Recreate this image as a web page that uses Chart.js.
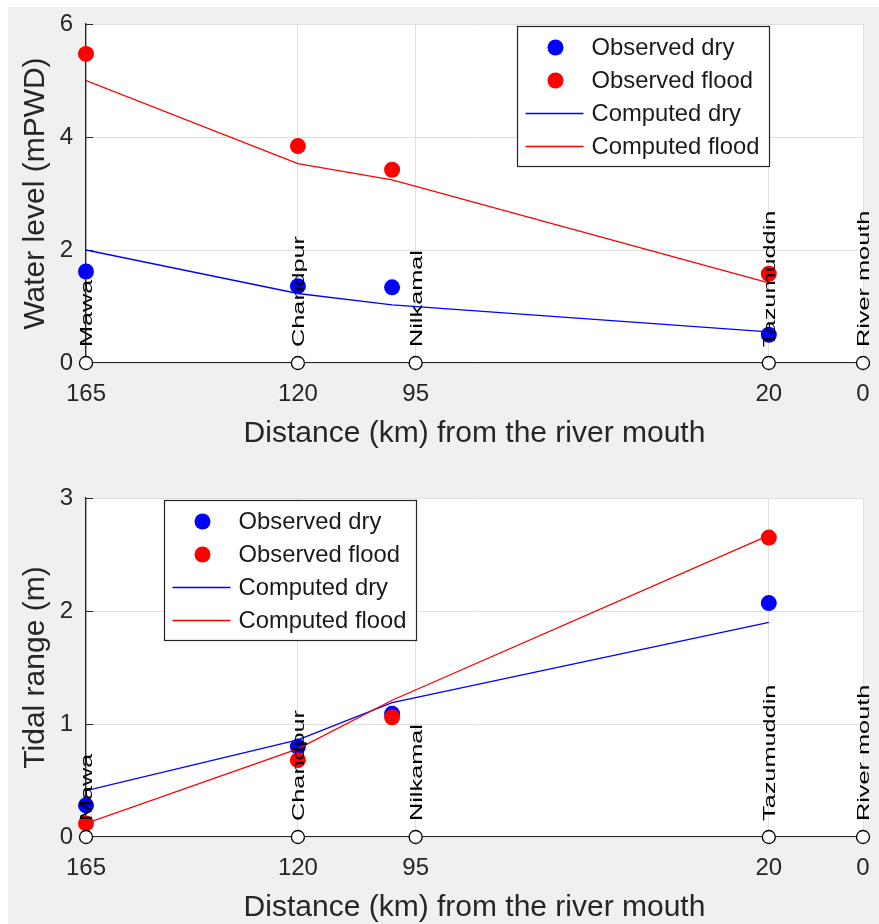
<!DOCTYPE html>
<html>
<head>
<meta charset="utf-8">
<script src="https://cdn.jsdelivr.net/npm/chart.js@4.4.1/dist/chart.umd.min.js"></script>
<style>
  html, body { margin: 0; padding: 0; background: #ffffff; overflow: hidden; }
  .frame { position: absolute; left: 8px; top: 7px; width: 871px; height: 917px; background: #f0f0f0; }
  .panel { position: absolute; left: 0; width: 879px; height: 462px; }
</style>
</head>
<body>
<div class="frame"></div>
<div class="panel" style="top:0"><canvas id="levelChart" width="879" height="462"></canvas></div>
<div class="panel" style="top:462px"><canvas id="rangeChart" width="879" height="462"></canvas></div>
<script>
// stations along the river (km from the mouth)
var stationKm = [165, 120, 95, 20, 0];
var stationNames = ['Mawa', 'Chandpur', 'Nilkamal', 'Tazumuddin', 'River mouth'];
var stationLevel = [0, 0, 0, 0, 0];

// observation / computation points (km)
var obsKm = [165, 120, 100, 20];

// water level (mPWD)
var levelObsDry = [1.62, 1.36, 1.34, 0.50];
var levelObsFlood = [5.47, 3.84, 3.42, 1.58];
var levelCompDry = [2.00, 1.23, 1.03, 0.55];
var levelCompFlood = [5.00, 3.53, 3.24, 1.42];

// tidal range (m)
var rangeObsDry = [0.28, 0.80, 1.09, 2.07];
var rangeObsFlood = [0.12, 0.68, 1.06, 2.65];
var rangeCompDry = [0.41, 0.86, 1.19, 1.90];
var rangeCompFlood = [0.12, 0.78, 1.21, 2.67];

var AXIS = '#262626';
var GRID = '#dfdfdf';
var BLUE = '#0000ff';
var RED = '#ff0000';
var FONT = "'Liberation Sans', Arial, sans-serif";

function points(xs, ys) {
    return xs.map(function(x, i) { return { x: x, y: ys[i] }; });
}

var panelPlugin = {
    id: 'panel',
    beforeDraw: function(chart) {
        var a = chart.chartArea, ctx = chart.ctx;
        ctx.save();
        ctx.fillStyle = '#ffffff';
        ctx.fillRect(a.left, a.top, a.right - a.left, a.bottom - a.top);
        ctx.restore();
    },
    beforeDatasetsDraw: function(chart) {
        // inward tick marks, matlab style
        var a = chart.chartArea, ctx = chart.ctx;
        var xs = chart.scales.x, ys = chart.scales.y;
        ctx.save();
        ctx.strokeStyle = AXIS;
        ctx.lineWidth = 1.2;
        ctx.beginPath();
        ys.ticks.forEach(function(t) {
            var y = Math.round(ys.getPixelForValue(t.value)) + 0.5;
            ctx.moveTo(a.left, y);
            ctx.lineTo(a.left + 7, y);
        });
        xs.ticks.forEach(function(t) {
            var x = Math.round(xs.getPixelForValue(t.value)) + 0.5;
            ctx.moveTo(x, a.bottom);
            ctx.lineTo(x, a.bottom - 7);
        });
        ctx.stroke();
        ctx.restore();
    },
    afterDatasetsDraw: function(chart) {
        var ctx = chart.ctx;
        var xs = chart.scales.x, ys = chart.scales.y;
        stationKm.forEach(function(km, i) {
            var x = xs.getPixelForValue(km) + 2;
            var y = ys.getPixelForValue(stationLevel[i]) - 16;
            ctx.save();
            ctx.translate(x, y);
            ctx.rotate(-Math.PI / 2);
            ctx.scale(1.58, 1);
            ctx.font = '16px ' + FONT;
            ctx.textAlign = 'left';
            ctx.textBaseline = 'middle';
            ctx.fillStyle = '#000000';
            ctx.fillText(stationNames[i], 0, 0);
            ctx.restore();
        });
    },
    afterDraw: function(chart, args, opts) {
        var ctx = chart.ctx, a = chart.chartArea;
        var bx = Math.round(a.left + opts.legendLeft) + 0.5;
        var by = Math.round(a.top + opts.legendTop) + 0.5;
        var bw = 252, bh = 140;
        ctx.save();
        ctx.fillStyle = '#ffffff';
        ctx.fillRect(bx, by, bw, bh);
        ctx.strokeStyle = AXIS;
        ctx.lineWidth = 1.2;
        ctx.strokeRect(bx, by, bw, bh);
        ctx.font = '23.8px ' + FONT;
        ctx.textAlign = 'left';
        ctx.textBaseline = 'middle';
        var row = 0;
        chart.data.datasets.forEach(function(ds) {
            if (!ds.label) return;
            var cy = by + 21 + row * 33;
            if (ds.showLine) {
                ctx.strokeStyle = ds.borderColor;
                ctx.lineWidth = ds.borderWidth;
                ctx.beginPath();
                ctx.moveTo(bx + 8, cy);
                ctx.lineTo(bx + 66, cy);
                ctx.stroke();
            } else {
                ctx.fillStyle = ds.backgroundColor;
                ctx.beginPath();
                ctx.arc(bx + 38, cy, ds.pointRadius, 0, Math.PI * 2);
                ctx.fill();
            }
            ctx.fillStyle = '#1a1a1a';
            ctx.fillText(ds.label, bx + 74, cy + 1);
            row++;
        });
        ctx.restore();
    }
};

function makePanel(canvasId, cfg) {
    return new Chart(document.getElementById(canvasId), {
        type: 'scatter',
        data: {
            datasets: [
                {
                    label: 'Observed dry',
                    data: points(obsKm, cfg.obsDry),
                    backgroundColor: BLUE,
                    borderColor: BLUE,
                    pointRadius: 8,
                    pointBorderWidth: 0,
                    clip: false,
                    order: 4
                },
                {
                    label: 'Observed flood',
                    data: points(obsKm, cfg.obsFlood),
                    backgroundColor: RED,
                    borderColor: RED,
                    pointRadius: 8,
                    pointBorderWidth: 0,
                    clip: false,
                    order: 3
                },
                {
                    label: 'Computed dry',
                    data: points(obsKm, cfg.compDry),
                    showLine: true,
                    borderColor: BLUE,
                    backgroundColor: BLUE,
                    borderWidth: 1.3,
                    pointRadius: 0,
                    order: 2
                },
                {
                    label: 'Computed flood',
                    data: points(obsKm, cfg.compFlood),
                    showLine: true,
                    borderColor: RED,
                    backgroundColor: RED,
                    borderWidth: 1.3,
                    pointRadius: 0,
                    order: 1
                },
                {
                    label: '',
                    data: points(stationKm, stationLevel),
                    backgroundColor: '#ffffff',
                    borderColor: '#000000',
                    pointRadius: 6.5,
                    pointBorderWidth: 1.3,
                    clip: false,
                    order: 0
                }
            ]
        },
        options: {
            responsive: false,
            animation: false,
            events: [],
            layout: {
                padding: { left: 0, right: 16, top: cfg.padTop, bottom: 0 }
            },
            plugins: {
                legend: { display: false },
                tooltip: { enabled: false },
                panel: { legendLeft: cfg.legendLeft, legendTop: 2 }
            },
            scales: {
                x: {
                    type: 'linear',
                    reverse: true,
                    min: 0,
                    max: 165,
                    afterBuildTicks: function(scale) {
                        scale.ticks = stationKm.map(function(v) { return { value: v }; });
                    },
                    afterFit: function(scale) {
                        scale.height = cfg.xHeight;
                        scale.paddingLeft = 0;
                        scale.paddingRight = 0;
                    },
                    grid: { color: GRID, drawTicks: false, lineWidth: 1 },
                    border: { color: AXIS, width: 1.3, z: -1 },
                    ticks: {
                        autoSkip: false,
                        maxRotation: 0,
                        padding: 17,
                        color: AXIS,
                        font: { family: FONT, size: 24 },
                        callback: function(v) { return String(v); }
                    },
                    title: {
                        display: true,
                        text: 'Distance (km) from the river mouth',
                        color: AXIS,
                        font: { family: FONT, size: 30, lineHeight: 1 },
                        padding: { top: 0, bottom: cfg.xTitlePad }
                    }
                },
                y: {
                    type: 'linear',
                    min: 0,
                    max: cfg.yMax,
                    afterFit: function(scale) {
                        scale.width = 86;
                        scale.paddingTop = 0;
                        scale.paddingBottom = 0;
                    },
                    grid: { color: GRID, drawTicks: false, lineWidth: 1 },
                    border: { color: AXIS, width: 1.3, z: -1 },
                    ticks: {
                        stepSize: cfg.yStep,
                        padding: 13,
                        color: AXIS,
                        font: { family: FONT, size: 24 }
                    },
                    title: {
                        display: true,
                        text: cfg.yTitle,
                        color: AXIS,
                        font: { family: FONT, size: 30, lineHeight: 1 },
                        padding: { top: 21, bottom: 0 }
                    }
                }
            }
        },
        plugins: [panelPlugin]
    });
}

makePanel('levelChart', {
    obsDry: levelObsDry,
    obsFlood: levelObsFlood,
    compDry: levelCompDry,
    compFlood: levelCompFlood,
    yMax: 6,
    yStep: 2,
    yTitle: 'Water level (mPWD)',
    padTop: 24,
    xHeight: 99,
    xTitlePad: 13,
    legendLeft: 431
});

makePanel('rangeChart', {
    obsDry: rangeObsDry,
    obsFlood: rangeObsFlood,
    compDry: rangeCompDry,
    compFlood: rangeCompFlood,
    yMax: 3,
    yStep: 1,
    yTitle: 'Tidal range (m)',
    padTop: 36,
    xHeight: 87,
    xTitlePad: 1,
    legendLeft: 78
});
</script>
</body>
</html>
